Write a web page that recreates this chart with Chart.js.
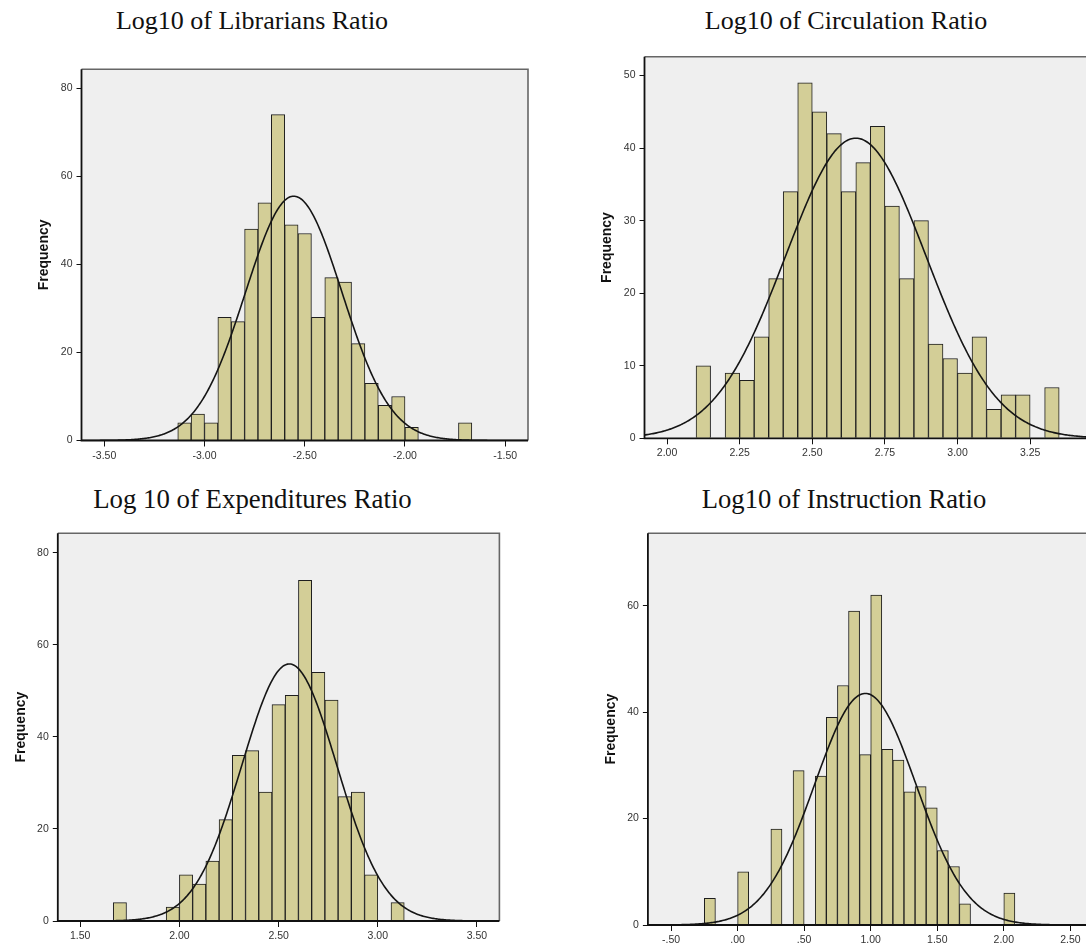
<!DOCTYPE html>
<html>
<head>
<meta charset="utf-8">
<script src="https://cdn.jsdelivr.net/npm/chart.js@4.4.1/dist/chart.umd.min.js"></script>
<style>
  html, body { margin: 0; padding: 0; background: #fff; overflow: hidden; }
  #page { position: relative; width: 1086px; height: 945px; overflow: hidden; background: #fff; }
  .ttl {
    position: absolute; width: 600px; text-align: center; white-space: nowrap;
    font-family: "Liberation Serif", "Times New Roman", serif;
    font-size: 26px; line-height: 26px; color: #111;
  }
  canvas { position: absolute; }
</style>
</head>
<body>
<div id="page">
  <div class="ttl" style="left:-48px; top:8px;">Log10 of Librarians Ratio</div>
  <div class="ttl" style="left:546px; top:8px;">Log10 of Circulation Ratio</div>
  <div class="ttl" style="left:-47.5px; top:485.5px; font-size:26.8px;">Log 10 of Expenditures Ratio</div>
  <div class="ttl" style="left:544px; top:485.5px; font-size:26.6px;">Log10 of Instruction Ratio</div>
</div>
<script>
// ---- Log10 of Librarians Ratio: histogram bins (start, width) and counts ----
const librariansBinStart = -47 / 15;
const librariansBinWidth = 1 / 15;
const librariansCounts = [4, 6, 4, 28, 27, 48, 54, 74, 49, 47, 28, 37, 36, 22, 13, 8, 10, 3, 0, 0, 0, 4];
const librariansXTicks = [-3.5, -3.0, -2.5, -2.0, -1.5];
const librariansXLabels = ['-3.50', '-3.00', '-2.50', '-2.00', '-1.50'];
const librariansYTicks = [0, 20, 40, 60, 80];

// ---- Log10 of Circulation Ratio ----
const circulationBinStart = 2.10;
const circulationBinWidth = 0.05;
const circulationCounts = [10, 0, 9, 8, 14, 22, 34, 49, 45, 42, 34, 38, 43, 32, 22, 30, 13, 11, 9, 14, 4, 6, 6, 0, 7];
const circulationXTicks = [2.0, 2.25, 2.5, 2.75, 3.0, 3.25];
const circulationXLabels = ['2.00', '2.25', '2.50', '2.75', '3.00', '3.25'];
const circulationYTicks = [0, 10, 20, 30, 40, 50];

// ---- Log 10 of Expenditures Ratio ----
const expendituresBinStart = 25 / 15;
const expendituresBinWidth = 1 / 15;
const expendituresCounts = [4, 0, 0, 0, 3, 10, 8, 13, 22, 36, 37, 28, 47, 49, 74, 54, 48, 27, 28, 10, 0, 4];
const expendituresXTicks = [1.5, 2.0, 2.5, 3.0, 3.5];
const expendituresXLabels = ['1.50', '2.00', '2.50', '3.00', '3.50'];
const expendituresYTicks = [0, 20, 40, 60, 80];

// ---- Log10 of Instruction Ratio ----
const instructionBinStart = -0.25;
const instructionBinWidth = 1 / 12;
const instructionCounts = [5, 0, 0, 10, 0, 0, 18, 0, 29, 0, 28, 39, 45, 59, 32, 62, 33, 31, 25, 26, 22, 14, 11, 4, 0, 0, 0, 6];
const instructionXTicks = [-0.5, 0.0, 0.5, 1.0, 1.5, 2.0, 2.5];
const instructionXLabels = ['-.50', '.00', '.50', '1.00', '1.50', '2.00', '2.50'];
const instructionYTicks = [0, 20, 40, 60];

// Panel layout: plot-area rectangle on the page and axis ranges
const panels = [
  { start: librariansBinStart, width: librariansBinWidth, counts: librariansCounts,
    xTicks: librariansXTicks, xLabels: librariansXLabels, yTicks: librariansYTicks,
    area: { left: 81.5, top: 69.3, right: 528, bottom: 440.5 }, xMin: -3.6135, xMax: -1.3865, yMax: 84.3 },
  { start: circulationBinStart, width: circulationBinWidth, counts: circulationCounts,
    xTicks: circulationXTicks, xLabels: circulationXLabels, yTicks: circulationYTicks,
    area: { left: 644.5, top: 56.7, right: 1131.8, bottom: 438.3 }, xMin: 1.9225, xMax: 3.60, yMax: 52.6 },
  { start: expendituresBinStart, width: expendituresBinWidth, counts: expendituresCounts,
    xTicks: expendituresXTicks, xLabels: expendituresXLabels, yTicks: expendituresYTicks,
    area: { left: 57.8, top: 533.3, right: 499.4, bottom: 921 }, xMin: 1.387, xMax: 3.613, yMax: 84.2 },
  { start: instructionBinStart, width: instructionBinWidth, counts: instructionCounts,
    xTicks: instructionXTicks, xLabels: instructionXLabels, yTicks: instructionYTicks,
    area: { left: 647.9, top: 533.3, right: 1136.9, bottom: 925 }, xMin: -0.674, xMax: 3.0, yMax: 73.6 }
];

Chart.defaults.font.family = '"Liberation Sans", Arial, sans-serif';

// Plot background and frame (gray top/right, black axes left/bottom)
const plotFrame = {
  id: 'plotFrame',
  beforeDraw(chart) {
    const { ctx, chartArea: a } = chart;
    ctx.save();
    ctx.fillStyle = '#EFEFEF';
    ctx.fillRect(a.left, a.top, a.right - a.left, a.bottom - a.top);
    ctx.restore();
  },
  afterDatasetsDraw(chart) {
    const { ctx, chartArea: a } = chart;
    ctx.save();
    ctx.lineWidth = 1.6;
    ctx.strokeStyle = '#666';
    ctx.beginPath();
    ctx.moveTo(a.left, a.top); ctx.lineTo(a.right, a.top); ctx.lineTo(a.right, a.bottom);
    ctx.stroke();
    ctx.strokeStyle = '#111';
    ctx.lineWidth = 1.8;
    ctx.beginPath();
    ctx.moveTo(a.left, a.top); ctx.lineTo(a.left, a.bottom); ctx.lineTo(a.right, a.bottom);
    ctx.stroke();
    ctx.restore();
  }
};

// Summary statistics of a binned sample (Sheppard-corrected variance)
function binStats(start, width, counts) {
  let n = 0, sum = 0;
  counts.forEach((f, i) => { const c = start + (i + 0.5) * width; n += f; sum += f * c; });
  const mean = sum / n;
  let ss = 0;
  counts.forEach((f, i) => { const c = start + (i + 0.5) * width; ss += f * (c - mean) * (c - mean); });
  const variance = ss / (n - 1) - width * width / 12;
  return { n, mean, sd: Math.sqrt(variance) };
}

const page = document.getElementById('page');

panels.forEach(p => {
  const canvas = document.createElement('canvas');
  const cl = Math.floor(p.area.left) - 70;
  const ct = Math.floor(p.area.top) - 12;
  const W = Math.ceil(p.area.right - cl) + 30;
  const H = Math.ceil(p.area.bottom - ct) + 34;
  const yw = p.area.left - cl;
  const padTop = p.area.top - ct;
  const padRight = cl + W - p.area.right;
  const xh = ct + H - p.area.bottom;
  canvas.width = W; canvas.height = H;
  canvas.style.left = cl + 'px'; canvas.style.top = ct + 'px';
  canvas.style.width = W + 'px'; canvas.style.height = H + 'px';
  page.appendChild(canvas);

  const bars = [];
  p.counts.forEach((f, i) => {
    if (f > 0) bars.push({ x: p.start + (i + 0.5) * p.width, y: f });
  });

  // Fitted normal curve, scaled to frequency per bin
  const st = binStats(p.start, p.width, p.counts);
  const k = st.n * p.width / (st.sd * Math.sqrt(2 * Math.PI));
  const curve = [];
  const steps = 400;
  for (let s = 0; s <= steps; s++) {
    const x = p.xMin + (p.xMax - p.xMin) * s / steps;
    const z = (x - st.mean) / st.sd;
    curve.push({ x, y: k * Math.exp(-0.5 * z * z) });
  }

  const titleFont = { family: '"Liberation Sans", Arial, sans-serif', size: 14, weight: 'bold' };
  const titlePad = (p.area.left - 37) - cl - 14 * 1.2 / 2;

  new Chart(canvas, {
    type: 'bar',
    data: {
      datasets: [
        { type: 'line', data: curve, borderColor: '#151515', borderWidth: 1.6,
          pointRadius: 0, tension: 0, fill: false, order: 0 },
        { type: 'bar', data: bars, backgroundColor: '#D3CE97', borderColor: '#1e1e1e',
          borderWidth: 1, barPercentage: 1, categoryPercentage: 1, order: 1 }
      ]
    },
    options: {
      responsive: false, animation: false, devicePixelRatio: 1, events: [],
      layout: { padding: { top: padTop, right: padRight, bottom: 0, left: 0 } },
      plugins: { legend: { display: false }, tooltip: { enabled: false }, title: { display: false } },
      scales: {
        x: {
          type: 'linear', min: p.xMin, max: p.xMax, offset: false,
          afterBuildTicks: s => { s.ticks = p.xTicks.map(v => ({ value: v })); },
          afterFit: s => { s.height = xh; },
          ticks: {
            callback: v => p.xLabels[p.xTicks.findIndex(t => Math.abs(t - v) < 1e-9)],
            font: { size: 10.5 }, color: '#333', padding: 3, maxRotation: 0, autoSkip: false
          },
          grid: { offset: false, drawOnChartArea: false, drawTicks: true, tickLength: 6, color: '#111', lineWidth: 1 },
          border: { display: false }
        },
        y: {
          type: 'linear', min: 0, max: p.yMax,
          afterBuildTicks: s => { s.ticks = p.yTicks.map(v => ({ value: v })); },
          afterFit: s => { s.width = yw; },
          ticks: { font: { size: 10.5 }, color: '#333', padding: 4, autoSkip: false },
          grid: { drawOnChartArea: false, drawTicks: true, tickLength: 5, color: '#111', lineWidth: 1 },
          border: { display: false },
          title: { display: true, text: 'Frequency', font: titleFont, color: '#111',
                   padding: { top: titlePad, bottom: 0 } }
        }
      }
    },
    plugins: [plotFrame]
  });
});
</script>
</body>
</html>
